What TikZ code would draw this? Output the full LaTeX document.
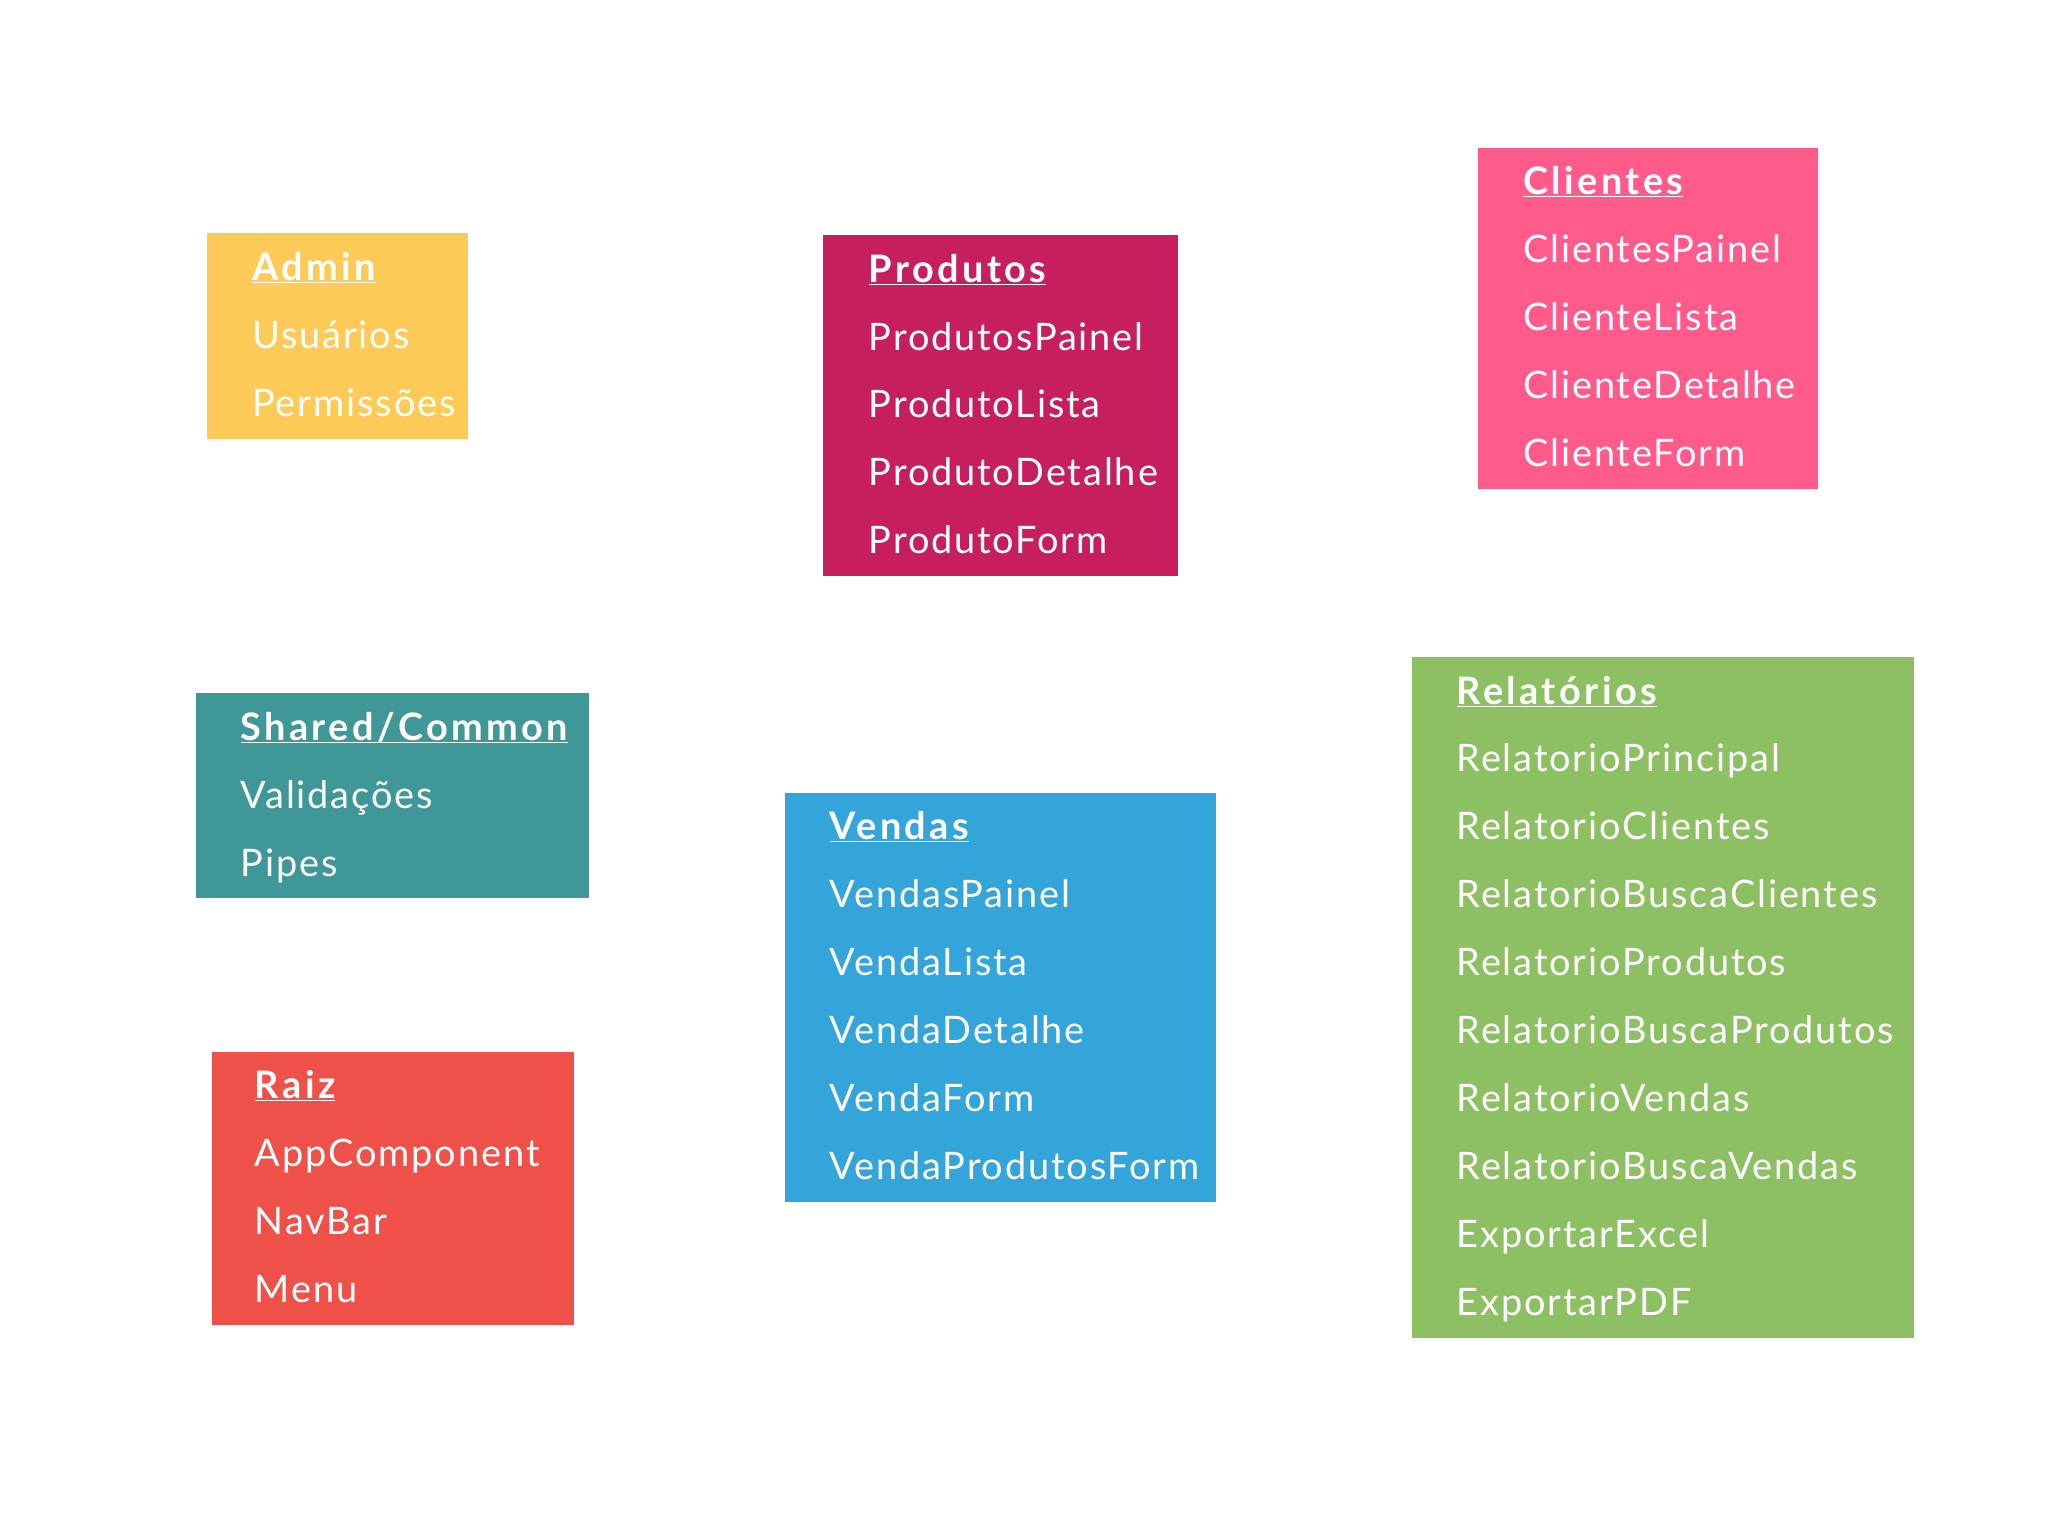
\documentclass[tikz,border=0pt]{standalone}
\usepackage{fontspec}
\setmainfont{Lato}[LetterSpace=5]
\newfontfamily\titlefont{Lato}[LetterSpace=9]
\usetikzlibrary{positioning}

\definecolor{adminclr}{RGB}{254,202,87}
\definecolor{produtosclr}{RGB}{199,31,93}
\definecolor{clientesclr}{RGB}{255,90,139}
\definecolor{sharedclr}{RGB}{63,151,151}
\definecolor{raizclr}{RGB}{240,80,74}
\definecolor{vendasclr}{RGB}{52,165,219}
\definecolor{relatoriosclr}{RGB}{140,192,99}

\newcommand{\grouptitle}[1]{\underline{\smash{#1}}}

\begin{document}
\begin{tikzpicture}[x=1pt, y=-1pt]
% Define the node styles
\tikzstyle{group} = [rectangle, anchor=north west, inner sep=0pt]
\tikzstyle{item} = [anchor=base west, inner sep=0pt, text=white, font=\fontsize{29}{34}\selectfont]
\tikzstyle{title} = [item, font=\fontsize{29}{34}\selectfont\titlefont\bfseries]

% Fix the margins
\path[use as bounding box, fill=white] (0,0) rectangle (1568,1176);

% Define the groups
\node[group, fill=adminclr, minimum width=200pt, minimum height=158pt] (admin) at (158,178) {};
\node[group, fill=produtosclr, minimum width=272pt, minimum height=261pt] (produtos) at (630,180) {};
\node[group, fill=clientesclr, minimum width=261pt, minimum height=261pt] (clientes) at (1131,113) {};
\node[group, fill=sharedclr, minimum width=301pt, minimum height=157pt] (shared) at (150,530) {};
\node[group, fill=raizclr, minimum width=277pt, minimum height=209pt] (raiz) at (162,805) {};
\node[group, fill=vendasclr, minimum width=330pt, minimum height=313pt] (vendas) at (601,607) {};
\node[group, fill=relatoriosclr, minimum width=384pt, minimum height=521pt] (relatorios) at (1081,503) {};

% Admin
\node[title] (adminT) at (193,215) {\grouptitle{Admin}};
\node[item] (admin1) at (193,267) {Usuários};
\node[item] (admin2) at (193,319) {Permissões};

% Produtos
\node[title] (produtosT) at (665,216) {\grouptitle{Produtos}};
\node[item] (produtos1) at (665,268) {ProdutosPainel};
\node[item] (produtos2) at (665,320) {ProdutoLista};
\node[item] (produtos3) at (665,372) {ProdutoDetalhe};
\node[item] (produtos4) at (665,424) {ProdutoForm};

% Clientes
\node[title] (clientesT) at (1166,149) {\grouptitle{Clientes}};
\node[item] (clientes1) at (1166,201) {ClientesPainel};
\node[item] (clientes2) at (1166,253) {ClienteLista};
\node[item] (clientes3) at (1166,305) {ClienteDetalhe};
\node[item] (clientes4) at (1166,357) {ClienteForm};

% Shared/Common
\node[title] (sharedT) at (184,567) {\grouptitle{Shared/Common}};
\node[item] (shared1) at (184,619) {Validações};
\node[item] (shared2) at (184,671) {Pipes};

% Raiz
\node[title] (raizT) at (195,841) {\grouptitle{Raiz}};
\node[item] (raiz1) at (195,893) {AppComponent};
\node[item] (raiz2) at (195,945) {NavBar};
\node[item] (raiz3) at (195,997) {Menu};

% Vendas
\node[title] (vendasT) at (635,643) {\grouptitle{Vendas}};
\node[item] (vendas1) at (635,695) {VendasPainel};
\node[item] (vendas2) at (635,747) {VendaLista};
\node[item] (vendas3) at (635,799) {VendaDetalhe};
\node[item] (vendas4) at (635,851) {VendaForm};
\node[item] (vendas5) at (635,903) {VendaProdutosForm};

% Relatorios
\node[title] (relatoriosT) at (1115,539) {\grouptitle{Relatórios}};
\node[item] (relatorios1) at (1115,591) {RelatorioPrincipal};
\node[item] (relatorios2) at (1115,643) {RelatorioClientes};
\node[item] (relatorios3) at (1115,695) {RelatorioBuscaClientes};
\node[item] (relatorios4) at (1115,747) {RelatorioProdutos};
\node[item] (relatorios5) at (1115,799) {RelatorioBuscaProdutos};
\node[item] (relatorios6) at (1115,851) {RelatorioVendas};
\node[item] (relatorios7) at (1115,903) {RelatorioBuscaVendas};
\node[item] (relatorios8) at (1115,955) {ExportarExcel};
\node[item] (relatorios9) at (1115,1007) {ExportarPDF};

\end{tikzpicture}
\end{document}
